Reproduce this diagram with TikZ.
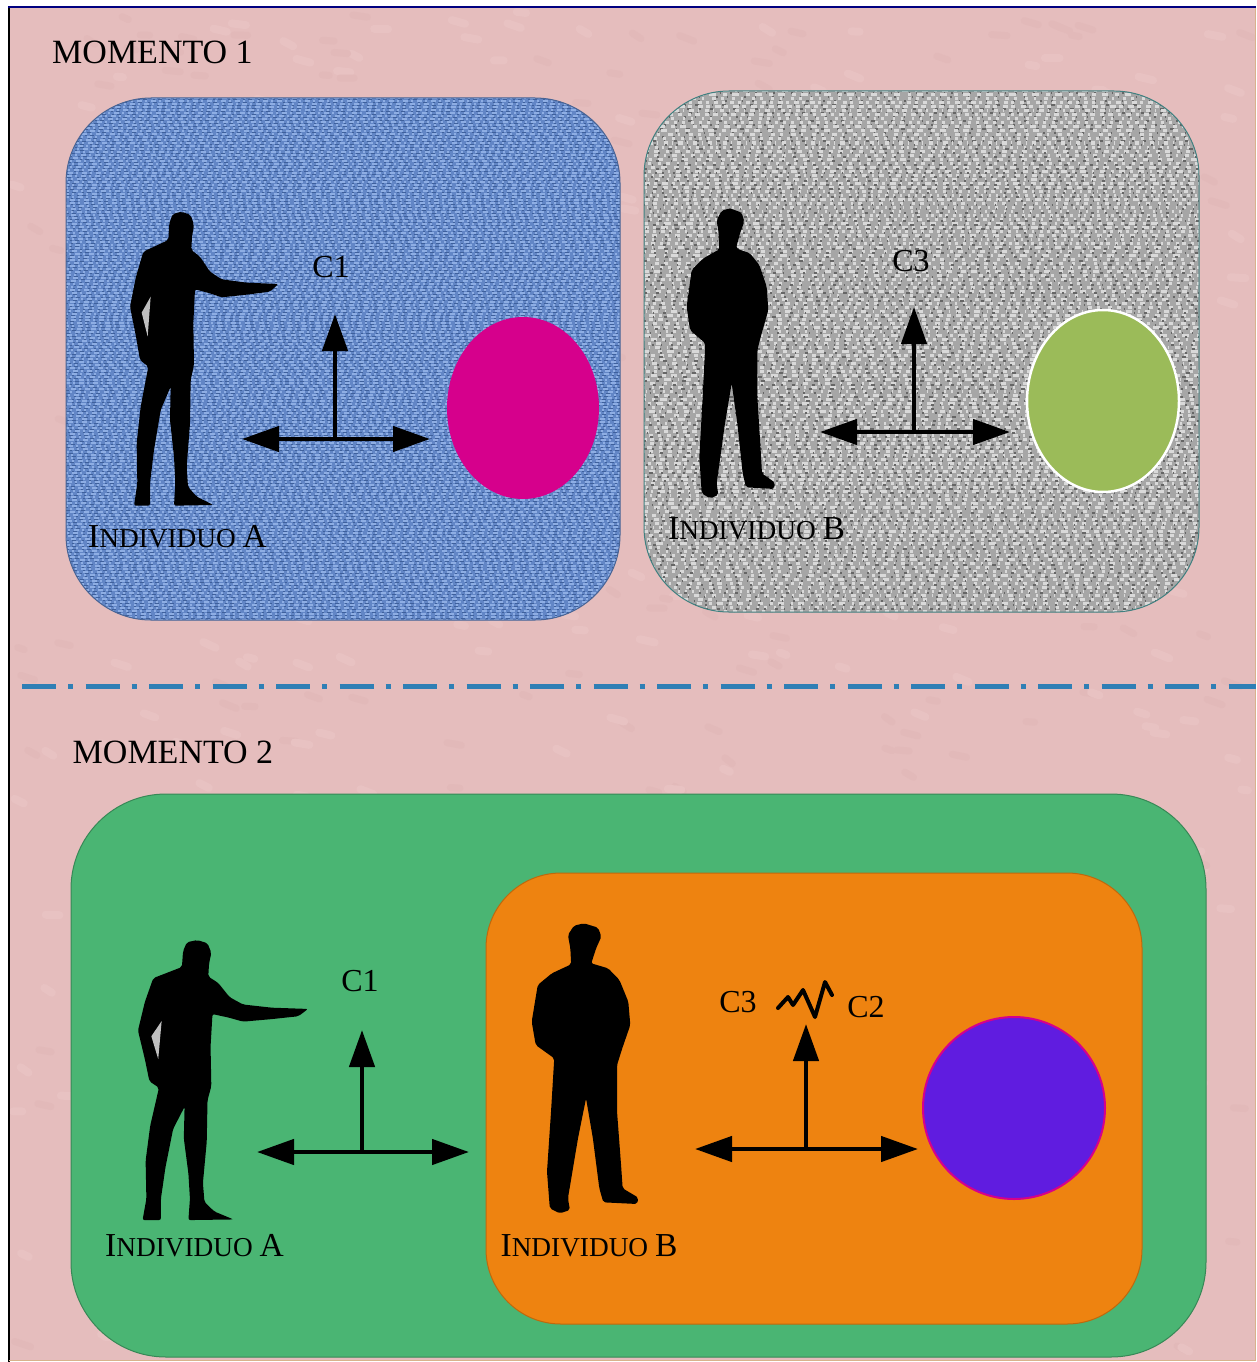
\documentclass[tikz,border=0pt]{standalone}
\usepackage{fontspec}
\setmainfont{Liberation Serif}
\usetikzlibrary{arrows.meta}
\definecolor{bgpink}{RGB}{229,189,189}
\definecolor{pinklight}{RGB}{232,194,194}
\definecolor{pinkdark}{RGB}{226,185,185}
\definecolor{panelblue}{RGB}{98,134,198}
\definecolor{darkblue}{RGB}{62,96,156}
\definecolor{lightblue}{RGB}{142,174,228}
\definecolor{panelgray}{RGB}{166,166,166}
\definecolor{panelgreen}{RGB}{74,181,115}
\definecolor{panelorange}{RGB}{238,131,16}
\definecolor{ballpink}{RGB}{214,0,140}
\definecolor{ballgreen}{RGB}{155,187,89}
\definecolor{ballpurple}{RGB}{96,28,224}
\definecolor{linedash}{RGB}{47,127,181}
\newcommand{\capslabel}[1]{\fontsize{33.5}{36}\selectfont I\fontsize{27.3}{30}\selectfont NDIVIDUO \fontsize{33.5}{36}\selectfont #1}
\tikzset{
    bigtext/.style={inner sep=0pt, font=\fontsize{34}{36}\selectfont},
    smalltext/.style={inner sep=0pt, font=\fontsize{32}{36}\selectfont},
    axis/.style={line width=4.5pt, draw=black, {Triangle[length=37pt,width=25pt]}-{Triangle[length=37pt,width=25pt]}},
    axisup/.style={line width=4.5pt, draw=black, -{Triangle[length=37pt,width=25pt]}},
    pointer/.pic={
        \fill[black, rounded corners=2pt] (245,65) -- (272,75) -- (282,105) -- (276,140) -- (274,180) -- (300,200) -- (330,245)
            -- (365,268) -- (440,278) -- (535,282) -- (510,305) -- (440,314) -- (365,322) -- (330,310) -- (285,298)
            -- (280,400) -- (282,525) -- (272,570) -- (270,700) -- (260,830) -- (264,890) -- (290,920) -- (340,945)
            -- (222,947) -- (226,880) -- (222,800) -- (210,690) -- (212,590) -- (182,660) -- (162,780) -- (150,880)
            -- (150,947) -- (102,947) -- (112,880) -- (110,760) -- (122,650) -- (145,530) -- (120,510) -- (108,440)
            -- (90,350) -- (108,260) -- (130,185) -- (205,150) -- (208,100) -- (218,72) -- cycle;
        \fill[black!25] (152,320) -- (125,368) -- (143,440) -- cycle;
    },
    stander/.pic={
        \fill[black, rounded corners=2pt] (210,55) -- (245,68) -- (253,95) -- (240,130) -- (228,175) -- (270,190)
            -- (298,225) -- (320,290) -- (325,360) -- (305,430) -- (292,480) -- (292,620) -- (302,780) -- (306,850)
            -- (345,878) -- (342,897) -- (258,892) -- (248,850) -- (232,700) -- (215,580) -- (195,700) -- (170,880)
            -- (175,915) -- (150,925) -- (125,910) -- (118,800) -- (128,620) -- (136,460) -- (90,420) -- (80,350)
            -- (95,240) -- (130,205) -- (178,178) -- (176,130) -- (170,90) -- (185,62) -- cycle;
    },
}

\begin{document}
\begin{tikzpicture}[x=1pt, y=-1pt]
    \useasboundingbox (0,0) rectangle (1256,1362);
    \pgfmathsetseed{7}

    % sheet
    \fill[bgpink] (9,8) rectangle (1255,1360);
    \foreach \i in {1,...,300} {
        \draw[pinklight, line width=8pt, line cap=round] ({12+1230*rnd},{10+1340*rnd}) -- ++({6+10*rnd},{6*rnd});
        \draw[pinkdark, line width=7pt, line cap=round] ({12+1230*rnd},{10+1340*rnd}) -- ++({6+10*rnd},{6*rnd});
    }
    \draw[black, line width=2pt] (8.5,7) -- (8.5,1362);
    \draw[blue!50!black, line width=2pt] (8,7) -- (1256,7);
    \draw[brown!60, line width=1pt] (1255,8) -- (1255,1360) -- (9,1360);

    % Momento 1: blue panel
    \fill[panelblue, rounded corners=85pt] (66,98) rectangle (620,620);
    \begin{scope}
        \clip[rounded corners=85pt] (66,98) rectangle (620,620);
        \foreach \y in {98,101,...,620} {
            \pgfmathsetmacro\pha{14*rnd}
            \pgfmathsetmacro\phb{14*rnd}
            \draw[lightblue, line width=1.1pt, dash pattern=on 5pt off 3pt on 2pt off 4pt, dash phase=\pha pt] (66,\y) -- (620,\y);
            \draw[darkblue, line width=1.1pt, dash pattern=on 4pt off 6pt on 2pt off 3pt, dash phase=\phb pt] (66,\y+1.5) -- (620,\y+1.5);
        }
    \end{scope}
    \draw[black!25!panelblue, line width=1pt, rounded corners=85pt] (66,98) rectangle (620,620);

    % Momento 1: gray panel
    \fill[panelgray, rounded corners=85pt] (644,91) rectangle (1199,612);
    \begin{scope}
        \clip[rounded corners=85pt] (644,91) rectangle (1199,612);
        \foreach \y in {91,95,...,612} {
            \pgfmathsetmacro\aon{2+5*rnd}
            \pgfmathsetmacro\aoff{3+7*rnd}
            \pgfmathsetmacro\acn{1+4*rnd}
            \pgfmathsetmacro\bon{1+3*rnd}
            \pgfmathsetmacro\boff{5+12*rnd}
            \pgfmathsetmacro\pha{17*rnd}
            \pgfmathsetmacro\phb{17*rnd}
            \draw[black!15, line width=3pt, dash pattern=on \aon pt off \aoff pt on \acn pt off 5.3pt, dash phase=\pha pt] (644,\y) -- (1199,\y);
            \draw[black!60, line width=1.8pt, dash pattern=on \bon pt off \boff pt on 1.5pt off 9.1pt, dash phase=\phb pt] (644,\y+2) -- (1199,\y+2);
        }
    \end{scope}
    \draw[teal!50!gray, line width=1pt, rounded corners=85pt] (644,91) rectangle (1199,612);

    % Momento 2: nested panels
    \draw[fill=panelgreen, draw=black!25!panelgreen, line width=1pt, rounded corners=95pt] (71,794) rectangle (1206,1357);
    \draw[fill=panelorange, draw=black!20!panelorange, line width=1pt, rounded corners=75pt] (486,873) rectangle (1142,1324);

    % balls
    \fill[ballpink] (523,408) ellipse [x radius=76, y radius=91];
    \draw[fill=ballgreen, draw=white, line width=2.5pt] (1103,401) ellipse [x radius=76, y radius=91];
    \draw[fill=ballpurple, draw=ballpink, line width=2pt] (1014,1108) ellipse [x radius=91, y radius=91];

    % people
    \pic[scale=1/3] at (100,190) {pointer};
    \pic[scale=1/3] at (660,190) {stander};
    \pic[xscale=.382, yscale=.3175] at (103.6,919.4) {pointer};
    \pic[xscale=.4025, yscale=1/3] at (499.5,905) {stander};

    % axes: name / left / right / middle / level / top
    \foreach \n/\xl/\xr/\xm/\yh/\yt in {p/242/430/335/439/314, q/820/1010/914/432/307, r/257/469/362/1152/1030, s/695/918/806/1149/1024} {
        \coordinate (\n left) at (\xl,\yh);
        \coordinate (\n right) at (\xr,\yh);
        \coordinate (\n mid) at (\xm,\yh);
        \coordinate (\n top) at (\xm,\yt);
        \draw[axis] (\n left) -- (\n right);
        \draw[axisup] (\n mid) -- (\n top);
    }

    % zigzag between C3 and C2
    \draw[black, line width=4pt, line join=round, line cap=round] (778,1008) -- (788,997) -- (793,1005) -- (803,990) -- (815,1017) -- (825,982) -- (832,995);

    % text
    \node[bigtext] (title1) at (152.5,52) {MOMENTO 1};
    \node[bigtext] (title2) at (173,752) {MOMENTO 2};
    \node[smalltext] (c1a) at (331,267) {C1};
    \node[smalltext] (c3a) at (911,261) {C3};
    \node[smalltext] (c1b) at (360,981) {C1};
    \node[smalltext] (c3b) at (738,1002) {C3};
    \node[smalltext] (c2b) at (866,1007) {C2};
    \node[inner sep=0pt] (inda) at (177.5,537) {\capslabel{A}};
    \node[inner sep=0pt] (indb) at (756.5,529) {\capslabel{B}};
    \node[inner sep=0pt] (indc) at (194.5,1246) {\capslabel{A}};
    \node[inner sep=0pt] (indd) at (589,1246) {\capslabel{B}};

    % dashed divider
    \coordinate (divl) at (22,686);
    \coordinate (divr) at (1256,686);
    \draw[linedash, line width=5pt, dash pattern=on 34pt off 12pt on 5pt off 12.5pt] (divl) -- (divr);
\end{tikzpicture}
\end{document}
